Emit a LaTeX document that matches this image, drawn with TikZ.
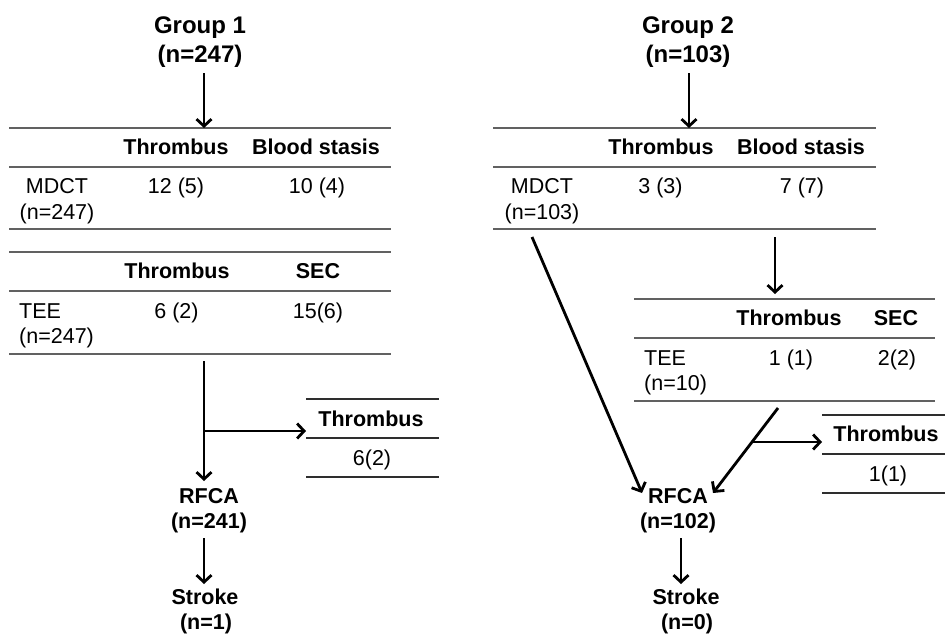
\documentclass[tikz,border=0pt]{standalone}
\usepackage{fontspec}
\setmainfont{Liberation Sans}
\usetikzlibrary{arrows.meta,calc}
\begin{document}
\begin{tikzpicture}[x=1pt,y=-1pt,
  txt/.style={inner sep=0pt,anchor=base,font=\fontsize{21.5}{25}\selectfont},
  hd/.style={txt,font=\fontsize{21.5}{25}\selectfont\bfseries},
  ttl/.style={txt,font=\fontsize{24}{28}\selectfont\bfseries},
  rule/.style={draw=black!62,line width=1.8pt},
  srule/.style={draw=black!82,line width=2pt},
  arr/.style={draw=black,line width=2.8pt,-{Straight Barb[length=7pt,width=15pt,line width=2.8pt]}}]
\useasboundingbox (0,0) rectangle (945,633);

% ---------------- Group 1 ----------------
\node[ttl] (g1a) at (200,33) {Group 1};
\node[ttl] (g1b) at (200,62) {(n=247)};
\coordinate (t1top) at (204,128);
\draw[rule] (9,128) -- (391,128);
\draw[rule] (9,167) -- (391,167);
\draw[rule] (9,229) -- (391,229);
\node[hd] (t1h1) at (176,154) {Thrombus};
\node[hd] (t1h2) at (316,154) {Blood stasis};
\node[txt] (t1r1) at (57,193) {MDCT};
\node[txt] (t1r2) at (57,219) {(n=247)};
\node[txt] (t1c1) at (176,193) {12 (5)};
\node[txt] (t1c2) at (317,193) {10 (4)};

\draw[rule] (9,252) -- (391,252);
\draw[rule] (9,291) -- (391,291);
\draw[rule] (9,354) -- (391,354);
\node[hd] (t2h1) at (177,278) {Thrombus};
\node[hd] (t2h2) at (318,278) {SEC};
\node[txt,anchor=base west] (t2r1) at (19,318) {TEE};
\node[txt,anchor=base west] (t2r2) at (19,343) {(n=247)};
\node[txt] (t2c1) at (176.5,318) {6 (2)};
\node[txt] (t2c2) at (318,318) {15(6)};

\draw[srule] (306,399) -- (439,399);
\draw[srule] (306,438) -- (439,438);
\draw[srule] (306,477) -- (439,477);
\node[hd] (s1h) at (371,426) {Thrombus};
\node[txt] (s1v) at (372,465) {6(2)};

\node[hd] (r1a) at (209,503) {RFCA};
\node[hd] (r1b) at (209,528) {(n=241)};
\node[hd] (k1a) at (205,604) {Stroke};
\node[hd] (k1b) at (206,629) {(n=1)};

\coordinate (a1s) at (204,73);
\coordinate (v1s) at (204,361);
\coordinate (v1e) at (204,481);
\coordinate (b1) at (204,431);
\coordinate (b1e) at (306,431);
\coordinate (k1s) at (204,538);
\coordinate (k1e) at (204,584);
\draw[arr] (a1s) -- (t1top);
\draw[arr] (v1s) -- (v1e);
\draw[arr] (b1) -- (b1e);
\draw[arr] (k1s) -- (k1e);

% ---------------- Group 2 ----------------
\node[ttl] (g2a) at (688,33) {Group 2};
\node[ttl] (g2b) at (688,62) {(n=103)};
\coordinate (t3top) at (689,128);
\draw[rule] (493,128) -- (876,128);
\draw[rule] (493,167) -- (876,167);
\draw[rule] (493,229) -- (876,229);
\node[hd] (t3h1) at (661,154) {Thrombus};
\node[hd] (t3h2) at (801,154) {Blood stasis};
\node[txt] (t3r1) at (542,193) {MDCT};
\node[txt] (t3r2) at (542,219) {(n=103)};
\node[txt] (t3c1) at (660.5,193) {3 (3)};
\node[txt] (t3c2) at (802,193) {7 (7)};

\draw[rule] (634,299) -- (935,299);
\draw[rule] (634,338) -- (935,338);
\draw[rule] (634,401) -- (935,401);
\node[hd] (t4h1) at (789,325) {Thrombus};
\node[hd] (t4h2) at (896,325) {SEC};
\node[txt,anchor=base west] (t4r1) at (644,365) {TEE};
\node[txt,anchor=base west] (t4r2) at (644,390) {(n=10)};
\node[txt] (t4c1) at (791,365) {1 (1)};
\node[txt] (t4c2) at (897,365) {2(2)};

\draw[srule] (822,415) -- (945,415);
\draw[srule] (822,454) -- (945,454);
\draw[srule] (822,493) -- (945,493);
\node[hd] (s2h) at (886,441) {Thrombus};
\node[txt] (s2v) at (888,481) {1(1)};

\node[hd] (r2a) at (678,503) {RFCA};
\node[hd] (r2b) at (678,528) {(n=102)};
\node[hd] (k2a) at (686,604) {Stroke};
\node[hd] (k2b) at (687,629) {(n=0)};

\coordinate (a2s) at (689,73);
\coordinate (d2s) at (775,237);
\coordinate (d2e) at (775,294);
\coordinate (l2s) at (532,237);
\coordinate (l2e) at (642,493);
\coordinate (m2s) at (778,408);
\coordinate (m2e) at (713,493);
\coordinate (b2) at ($(m2s)!0.4!(m2e)$);
\coordinate (b2e) at (822,446);
\coordinate (k2s) at (681,538);
\coordinate (k2e) at (681,584);
\draw[arr] (a2s) -- (t3top);
\draw[arr] (d2s) -- (d2e);
\draw[arr] (l2s) -- (l2e);
\draw[arr] (m2s) -- (m2e);
\draw[arr] (b2) -- (b2e |- b2);
\draw[arr] (k2s) -- (k2e);
\end{tikzpicture}
\end{document}
